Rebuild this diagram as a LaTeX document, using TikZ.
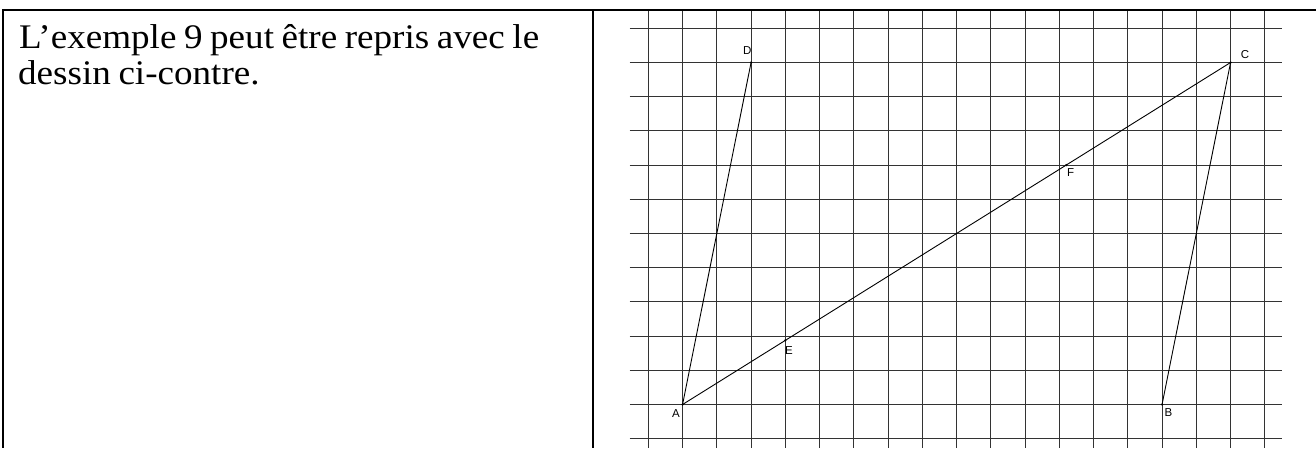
\documentclass[tikz,border=0pt]{standalone}
\usepackage{fontspec}
\setmainfont{Liberation Serif}
\newfontfamily\txtfont[FakeStretch=1.075,WordSpace=0.82]{Liberation Serif}
\newfontfamily\lblfont{Liberation Sans}
\usetikzlibrary{calc}
\begin{document}
\begin{tikzpicture}[x=1pt,y=-1pt,
  border/.style={line width=2pt, black},
  gridline/.style={line width=1pt, black!80},
  segment/.style={line width=0.9pt, black},
  ptlabel/.style={font=\lblfont\fontsize{11.5}{13}\selectfont, inner sep=0pt},
  body/.style={font=\txtfont\fontsize{34.5}{35}\selectfont, inner sep=0pt, anchor=base west},
  dot/.style={circle, fill=black, inner sep=0pt, minimum size=2.5pt}]
\useasboundingbox (0,0) rectangle (1316,448);
\fill[white] (0,0) rectangle (1316,448);
% grid
\foreach \k in {0,...,18}
  \draw[gridline] ({648.3+34.25*\k},10) -- ({648.3+34.25*\k},448);
\foreach \j in {0,...,12}
  \draw[gridline] (629.5,{28.3+34.2*\j}) -- (1281.7,{28.3+34.2*\j});
% points
\coordinate (A) at (682.55,404.5);
\coordinate (B) at (1162.05,404.5);
\coordinate (C) at (1230.55,62.5);
\coordinate (D) at (751.05,62.5);
\coordinate (E) at ($(A)!0.1875!(C)$);
\coordinate (F) at ($(A)!0.7!(C)$);
\draw[segment] (A) -- (D);
\draw[segment] (A) -- (C);
\draw[segment] (B) -- (C);
\foreach \p in {A,B,C,D,E,F}
  \node[dot] (dot\p) at (\p) {};
\node[ptlabel] (lA) at ($(A)+(-6.5,9.5)$) {A};
\node[ptlabel] (lB) at ($(B)+(6.3,8.2)$) {B};
\node[ptlabel] (lC) at ($(C)+(14.5,-7.5)$) {C};
\node[ptlabel] (lD) at ($(D)+(-3.8,-11.5)$) {D};
\node[ptlabel] (lE) at ($(E)+(3.7,10.3)$) {E};
\node[ptlabel] (lF) at ($(F)+(4.5,7.6)$) {F};
% table borders
\draw[border] (2,10) -- (1316,10);
\draw[border] (3,9) -- (3,448);
\draw[border] (593,10) -- (593,448);
% text
\node[body] (t1) at (19,48) {L’exemple 9 peut être repris avec le};
\node[body] (t2) at (18,84) {dessin ci-contre.};
\end{tikzpicture}
\end{document}
